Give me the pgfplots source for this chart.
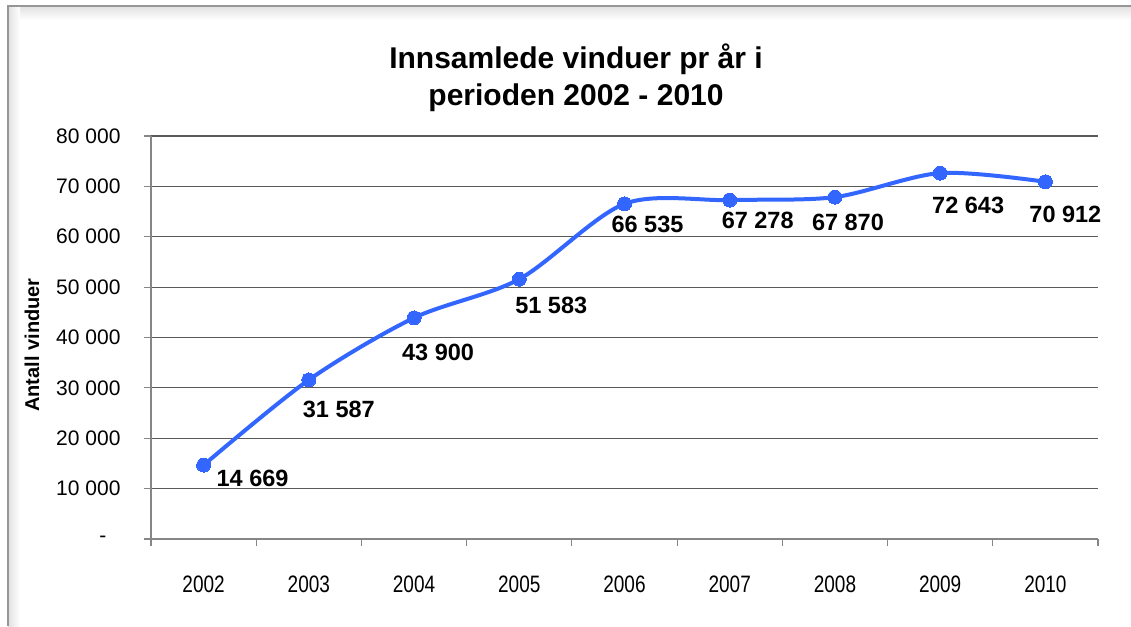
\documentclass[border=0pt]{standalone}
\usepackage{pgfplots}
\pgfplotsset{compat=1.18}
\usepackage{pgfplotstable}
\usepackage{fontspec}
\setmainfont{Liberation Sans}
\definecolor{lineblue}{RGB}{51,102,255}
\definecolor{gridgray}{RGB}{90,90,90}
\definecolor{axisgray}{RGB}{134,134,134}
\definecolor{framegray}{RGB}{150,150,150}

\pgfplotstableread{
x y dx dy
0 14669 49 13
1 31587 30 30
2 43900 24 35
3 51583 32 26
4 66535 23 21
5 67278 28 20
6 67870 13 25
7 72643 28 32
8 70912 20 33
}\datatable

\begin{document}
\begin{tikzpicture}[x=1pt,y=1pt]
\useasboundingbox (0,0) rectangle (1131,626);
\fill[white] (0,0) rectangle (1131,626);
% frame with soft shadow
\shade[top color=black!12, bottom color=white] (8,606) rectangle (1131,620);
\shade[left color=black!12, right color=white] (8,0) rectangle (20,620);
\draw[framegray, line width=1.6pt] (8,0) -- (8,620) -- (1131,620);

\begin{axis}[
  at={(151pt,87pt)}, anchor=south west,
  scale only axis, width=947pt, height=403pt,
  xmin=-0.5, xmax=8.5, ymin=0, ymax=80000,
  axis x line*=bottom, axis y line*=left,
  axis line style={axisgray, line width=1.5pt},
  xtick={0,...,8},
  xticklabels={2002,2003,2004,2005,2006,2007,2008,2009,2010},
  minor xtick={-0.5,0.5,...,8.5},
  major x tick style={draw=none},
  minor tick length=7pt,
  ytick={0,10000,...,80000},
  yticklabels={{-\rule{14pt}{0pt}},10 000,20 000,30 000,40 000,50 000,60 000,70 000,80 000},
  tick align=outside,
  major tick length=7pt,
  tick style={axisgray, line width=1.2pt},
  ymajorgrids,
  major grid style={gridgray, line width=1.2pt},
  x tick label style={font=\fontsize{19}{23}\selectfont, anchor=center, yshift=-38pt, yscale=1.25},
  y tick label style={font=\fontsize{21}{25}\selectfont, anchor=east, xshift=-20pt},
  scaled y ticks=false,
  clip=false,
]
\addplot[
  lineblue, line width=4pt, smooth, tension=0.5,
  mark=*, mark size=7pt, mark options={fill=lineblue, draw=lineblue, line width=0pt},
  point meta=y,
  visualization depends on={\thisrow{dx}\as\ldx},
  visualization depends on={\thisrow{dy}\as\ldy},
  nodes near coords={\pgfmathprintnumber[fixed,precision=0,1000 sep={\ },assume math mode=true]{\pgfplotspointmeta}},
  every node near coord/.append style={
    font=\fontsize{23.5}{27}\selectfont\bfseries, text=black,
    anchor=center, xshift=\ldx pt, yshift=-\ldy pt, inner sep=0pt},
] table[x=x, y=y] {\datatable};
\end{axis}

\node[font=\fontsize{30}{37}\selectfont\bfseries, align=center] at (576,548) {Innsamlede vinduer pr år i\\perioden 2002 - 2010};
\node[font=\fontsize{20}{24}\selectfont\bfseries, rotate=90] at (32,281) {Antall vinduer};
\end{tikzpicture}
\end{document}
